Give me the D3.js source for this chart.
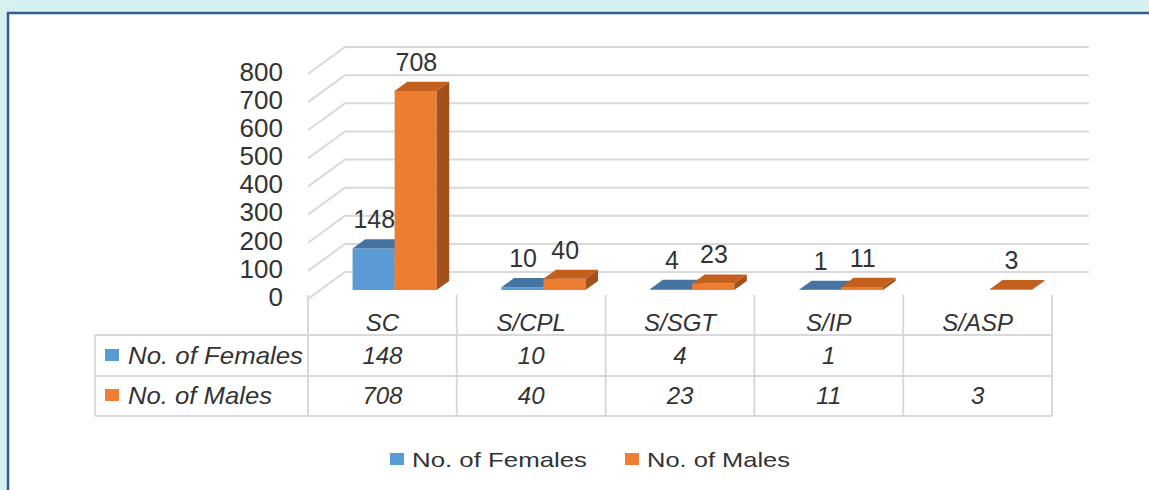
<!DOCTYPE html>
<html>
<head>
<meta charset="utf-8">
<script src="https://cdn.jsdelivr.net/npm/d3@7"></script>
<style>
  body { margin: 0; background: #d7f0f2; }
  svg { display: block; font-family: "Liberation Sans", Arial, sans-serif; }
</style>
</head>
<body>
<div id="chart"></div>
<script>
// data
const categories = ["SC", "S/CPL", "S/SGT", "S/IP", "S/ASP"];
const seriesNames = ["No. of Females", "No. of Males"];
const females = [148, 10, 4, 1, null];
const males = [708, 40, 23, 11, 3];
const yTicks = [0, 100, 200, 300, 400, 500, 600, 700, 800];

const seriesValues = [females, males];
const colors = {
  "No. of Females": { front: "#5b9bd5", top: "#4574a3", side: "#3d6890" },
  "No. of Males": { front: "#ed7d31", top: "#c4601d", side: "#a3501a" }
};

// layout
const width = 1149, height = 490;
const floorY = 299;                     // front edge of the floor
const depth = { dx: 37, dy: -27 };       // offset from front plane to back wall
const barDepth = { z0: 0.33, z1: 0.67 };
const textColor = "#333";

const svg = d3.select("#chart").append("svg")
  .attr("width", width)
  .attr("height", height);

svg.append("rect")
  .attr("width", width).attr("height", height)
  .attr("fill", "#d7f0f2");
svg.append("rect")
  .attr("x", 8).attr("y", 13)
  .attr("width", 1250).attr("height", 600)
  .attr("fill", "#fff")
  .attr("stroke", "#2f5f8f")
  .attr("stroke-width", 2.5);

// scales
const scaleX = d3.scaleBand()
  .domain(categories)
  .range([308, 1052]);
const scaleSeries = d3.scaleBand()
  .domain(seriesNames)
  .range([0, scaleX.bandwidth()])
  .paddingInner(0)
  .paddingOuter(0.77);
const scaleH = d3.scaleLinear()
  .domain([0, 800])
  .range([0, 225]);

function project(x, v, z) {
  return [x + z * depth.dx, floorY - scaleH(v) + z * depth.dy];
}

// groups
const groupGrid = svg.append("g").attr("class", "groupGrid");
const groupAxisY = svg.append("g").attr("class", "groupAxisY");
const groupMarks = svg.append("g").attr("class", "groupMarks");
const groupLabels = svg.append("g").attr("class", "groupLabels");
const groupTable = svg.append("g").attr("class", "groupTable");
const groupLegend = svg.append("g").attr("class", "groupLegend");

// gridlines: back wall + side wall
const [x0, x1] = scaleX.range();
groupGrid.selectAll("path")
  .data(yTicks)
  .join("path")
  .attr("fill", "none")
  .attr("stroke", "#d9d9d9")
  .attr("stroke-width", 2)
  .attr("d", v => {
    const a = project(x0, v, 0), b = project(x0, v, 1), c = project(x1, v, 1);
    return `M${a}L${b}L${c}`;
  });

groupAxisY.selectAll("text")
  .data(yTicks)
  .join("text")
  .attr("x", 283)
  .attr("y", v => project(x0, v, 0)[1] - 2.5)
  .attr("dy", "0.36em")
  .attr("text-anchor", "end")
  .attr("font-size", 26)
  .attr("fill", textColor)
  .text(v => v);

// bars
const bars = [];
categories.forEach((c, i) => {
  seriesNames.forEach((s, j) => {
    const v = seriesValues[j][i];
    if (v == null) return;
    bars.push({ category: c, series: s, value: v });
  });
});

const barGroups = groupMarks.selectAll("g")
  .data(bars)
  .join("g");

barGroups.each(function (d) {
  const g = d3.select(this);
  const xa = scaleX(d.category) + scaleSeries(d.series);
  const xb = xa + scaleSeries.bandwidth();
  const { z0, z1 } = barDepth;
  const poly = pts => "M" + pts.map(p => p.join(",")).join("L") + "Z";
  const col = colors[d.series];
  g.append("path")
    .attr("fill", col.front)
    .attr("d", poly([project(xa, 0, z0), project(xb, 0, z0), project(xb, d.value, z0), project(xa, d.value, z0)]));
  g.append("path")
    .attr("fill", col.top)
    .attr("d", poly([project(xa, d.value, z0), project(xb, d.value, z0), project(xb, d.value, z1), project(xa, d.value, z1)]));
  g.append("path")
    .attr("fill", col.side)
    .attr("d", poly([project(xb, 0, z0), project(xb, d.value, z0), project(xb, d.value, z1), project(xb, 0, z1)]));
});

groupLabels.selectAll("text")
  .data(bars)
  .join("text")
  .attr("x", d => project(scaleX(d.category) + scaleSeries(d.series) + scaleSeries.bandwidth() / 2, d.value, 0.35)[0])
  .attr("y", d => project(0, d.value, barDepth.z1)[1] - 11)
  .attr("text-anchor", "middle")
  .attr("font-size", 25)
  .attr("fill", textColor)
  .text(d => d.value);

// data table
const tableLeft = 95;
const rowLines = [335, 376, 416];
const rowBaselines = [364, 404];
const rowLabelLengths = [175, 144];
const gridStroke = "#d9d9d9";

groupTable.selectAll("line.h")
  .data(rowLines)
  .join("line")
  .attr("class", "h")
  .attr("x1", tableLeft).attr("x2", x1)
  .attr("y1", d => d).attr("y2", d => d)
  .attr("stroke", gridStroke).attr("stroke-width", 2);

const colEdges = categories.map(c => scaleX(c)).concat([x1]);
groupTable.selectAll("line.v")
  .data(colEdges)
  .join("line")
  .attr("class", "v")
  .attr("x1", d => d).attr("x2", d => d)
  .attr("y1", 295).attr("y2", 416)
  .attr("stroke", gridStroke).attr("stroke-width", 2);
groupTable.append("line")
  .attr("x1", tableLeft).attr("x2", tableLeft)
  .attr("y1", 335).attr("y2", 416)
  .attr("stroke", gridStroke).attr("stroke-width", 2);

groupTable.selectAll("text.cat")
  .data(categories)
  .join("text")
  .attr("class", "cat")
  .attr("x", c => scaleX(c) + scaleX.bandwidth() / 2)
  .attr("y", 331)
  .attr("text-anchor", "middle")
  .attr("font-size", 24)
  .attr("font-style", "italic")
  .attr("fill", textColor)
  .text(c => c);

seriesNames.forEach((s, j) => {
  const y = rowBaselines[j];
  groupTable.append("rect")
    .attr("x", 105).attr("y", y - 15)
    .attr("width", 14).attr("height", 12)
    .attr("fill", colors[s].front);
  groupTable.append("text")
    .attr("x", 128).attr("y", y)
    .attr("font-size", 24)
    .attr("font-style", "italic")
    .attr("fill", textColor)
    .attr("textLength", rowLabelLengths[j])
    .attr("lengthAdjust", "spacingAndGlyphs")
    .text(s);
  groupTable.selectAll(`text.val${j}`)
    .data(categories)
    .join("text")
    .attr("class", `val${j}`)
    .attr("x", c => scaleX(c) + scaleX.bandwidth() / 2)
    .attr("y", y)
    .attr("text-anchor", "middle")
    .attr("font-size", 24)
    .attr("font-style", "italic")
    .attr("fill", textColor)
    .text((c, i) => seriesValues[j][i] == null ? "" : seriesValues[j][i]);
});

// legend
const legendItems = [
  { name: seriesNames[0], x: 390, len: 175 },
  { name: seriesNames[1], x: 625, len: 143 }
];
legendItems.forEach(d => {
  groupLegend.append("rect")
    .attr("x", d.x).attr("y", 453)
    .attr("width", 14).attr("height", 12)
    .attr("fill", colors[d.name].front);
  groupLegend.append("text")
    .attr("x", d.x + 22).attr("y", 467)
    .attr("font-size", 21)
    .attr("fill", textColor)
    .attr("textLength", d.len)
    .attr("lengthAdjust", "spacingAndGlyphs")
    .text(d.name);
});
</script>
</body>
</html>
